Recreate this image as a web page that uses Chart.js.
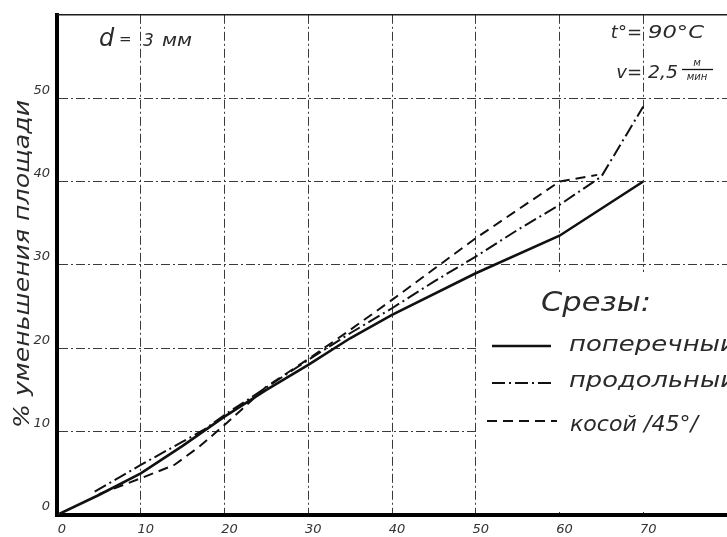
<!DOCTYPE html>
<html><head><meta charset="utf-8">
<script src="https://cdn.jsdelivr.net/npm/chart.js@4/dist/chart.umd.min.js"></script>
<style>html,body{margin:0;padding:0;background:#fff;overflow:hidden}</style>
</head><body>
<canvas id="c" width="727" height="537"></canvas>
<script>
const xTicks = [0,10,20,30,40,50,60,70];
const yTicks = [0,10,20,30,40,50,60];
const seriesNames = ['поперечный','продольный','косой /45°/'];
const transverseX = [0,5,10,15,20,25,30,35,40,50,60,70];
const transverseY = [0,2.4,5,8.3,11.8,15,18,21.2,24,29,33.5,40];
const longitudinalX = [4.5,10,15,17.5,20,25,30,35,40,45,50,55,60,65,70];
const longitudinalY = [2.8,6,8.8,10.2,12,15.3,18.6,21.8,24.8,28,31,34.2,37.2,40.6,49];
const obliqueX = [5,10,14,17,20,22,25,30,35,40,45,50,55,60,64.5];
const obliqueY = [2.5,4.4,6,8.2,10.8,12.6,15.4,18.7,22.2,25.8,29.5,33.2,36.6,40,40.8];
const yTitle = '% уменьшения площади';
const legendTitle = 'Срезы:';

const INK = '#2a2a2a';
const FAM = '"DejaVu Sans", sans-serif';
const styles = [
  {borderWidth:2.6, borderDash:[]},
  {borderWidth:2, borderDash:[13,4,2,4]},
  {borderWidth:2, borderDash:[10,6]}
];
function pts(xs, ys){ return xs.map((x,i)=>({x, y: ys[i]})); }

// draw text stretched horizontally to a target width
function fit(ctx, s, x, y, w){
  const m = ctx.measureText(s).width;
  ctx.save();
  ctx.translate(x, y);
  ctx.scale(w/m, 1);
  ctx.fillText(s, 0, 0);
  ctx.restore();
}

const maskPlugin = {
  id:'mask',
  beforeDatasetsDraw(chart){
    const ctx=chart.ctx, a=chart.chartArea;
    ctx.save();
    ctx.fillStyle='#fff';
    ctx.fillRect(479, 272, a.right-479, 240);
    ctx.strokeStyle='#1c1c1c'; ctx.lineWidth=1.5;
    ctx.beginPath(); ctx.moveTo(a.left, a.top); ctx.lineTo(a.right, a.top); ctx.stroke();
    ctx.restore();
  }
};

const notesPlugin = {
  id:'notes',
  afterDraw(chart){
    const ctx=chart.ctx;
    ctx.save();
    ctx.fillStyle=INK; ctx.strokeStyle='#111';
    ctx.textAlign='left'; ctx.textBaseline='alphabetic';
    // y title
    ctx.save();
    ctx.translate(29, 265); ctx.rotate(-Math.PI/2);
    ctx.font='italic 21px '+FAM;
    fit(ctx, yTitle, -163, 0, 328);
    ctx.restore();
    // d = 3 мм
    ctx.font='italic 24px '+FAM;
    ctx.fillText('d', 99, 46);
    ctx.font='italic 15px '+FAM;
    ctx.fillText('=', 119, 44);
    ctx.font='italic 17px '+FAM;
    ctx.fillText('3', 143, 46);
    fit(ctx, 'мм', 162, 46, 30);
    // t° = 90°C ; v = 2,5 м/мин
    ctx.font='italic 18px '+FAM;
    ctx.textAlign='right';
    ctx.fillText('t°=', 642, 38);
    ctx.fillText('v=', 642, 78);
    ctx.textAlign='left';
    fit(ctx, '90°C', 648, 38, 56);
    fit(ctx, '2,5', 648, 78, 30);
    ctx.font='italic 10px '+FAM;
    ctx.textAlign='center';
    ctx.fillText('м', 697, 66);
    ctx.fillText('мин', 697, 80);
    ctx.lineWidth=1.3;
    ctx.beginPath(); ctx.moveTo(682, 69.5); ctx.lineTo(713, 69.5); ctx.stroke();
    ctx.textAlign='left';
    // legend
    ctx.font='italic 27px '+FAM;
    fit(ctx, legendTitle, 541, 311, 110);
    const rows=[
      {y:346, x1:492, x2:551, tx:569, ty:351, w:168},
      {y:383, x1:492, x2:551, tx:569, ty:387, w:168},
      {y:421, x1:487, x2:557, tx:570, ty:431, w:128}
    ];
    ctx.font='italic 21px '+FAM;
    rows.forEach((r,i)=>{
      ctx.save();
      ctx.lineWidth=styles[i].borderWidth;
      ctx.setLineDash(styles[i].borderDash);
      ctx.beginPath(); ctx.moveTo(r.x1, r.y); ctx.lineTo(r.x2, r.y); ctx.stroke();
      ctx.restore();
      fit(ctx, seriesNames[i], r.tx, r.ty, r.w);
    });
    ctx.restore();
  }
};

const gridCommon = {
  grid:{color:'#3a3a3a', lineWidth:1, drawTicks:false},
  border:{display:true, width:4, color:'#000', dash:[9,3,2,3]}
};

new Chart(document.getElementById('c'), {
  type:'line',
  data:{datasets:[
    Object.assign({label:seriesNames[0], data:pts(transverseX, transverseY)}, styles[0]),
    Object.assign({label:seriesNames[1], data:pts(longitudinalX, longitudinalY)}, styles[1]),
    Object.assign({label:seriesNames[2], data:pts(obliqueX, obliqueY)}, styles[2])
  ].map(d=>Object.assign(d,{borderColor:'#111', pointRadius:0, tension:0, fill:false}))},
  options:{
    responsive:false, animation:false, devicePixelRatio:1,
    layout:{padding:{top:13, right:0, left:0, bottom:0}},
    plugins:{legend:{display:false}, tooltip:{enabled:false}},
    scales:{
      x:Object.assign({
        type:'linear', min:0, max:80,
        afterBuildTicks:s=>{ s.ticks = xTicks.map(v=>({value:v})); },
        afterFit:s=>{ s.height=22; },
        ticks:{font:{style:'italic', size:13, family:FAM}, color:'#333', padding:7, labelOffset:5, maxRotation:0, autoSkip:false}
      }, gridCommon),
      y:Object.assign({
        min:0, max:60,
        afterBuildTicks:s=>{ s.ticks = yTicks.map(v=>({value:v})); },
        afterFit:s=>{ s.width=57; },
        ticks:{font:{style:'italic', size:13, family:FAM}, color:'#333', padding:7, labelOffset:-8, callback:v=> v===60?'':v}
      }, gridCommon)
    }
  },
  plugins:[maskPlugin, notesPlugin]
});
</script>
</body></html>
